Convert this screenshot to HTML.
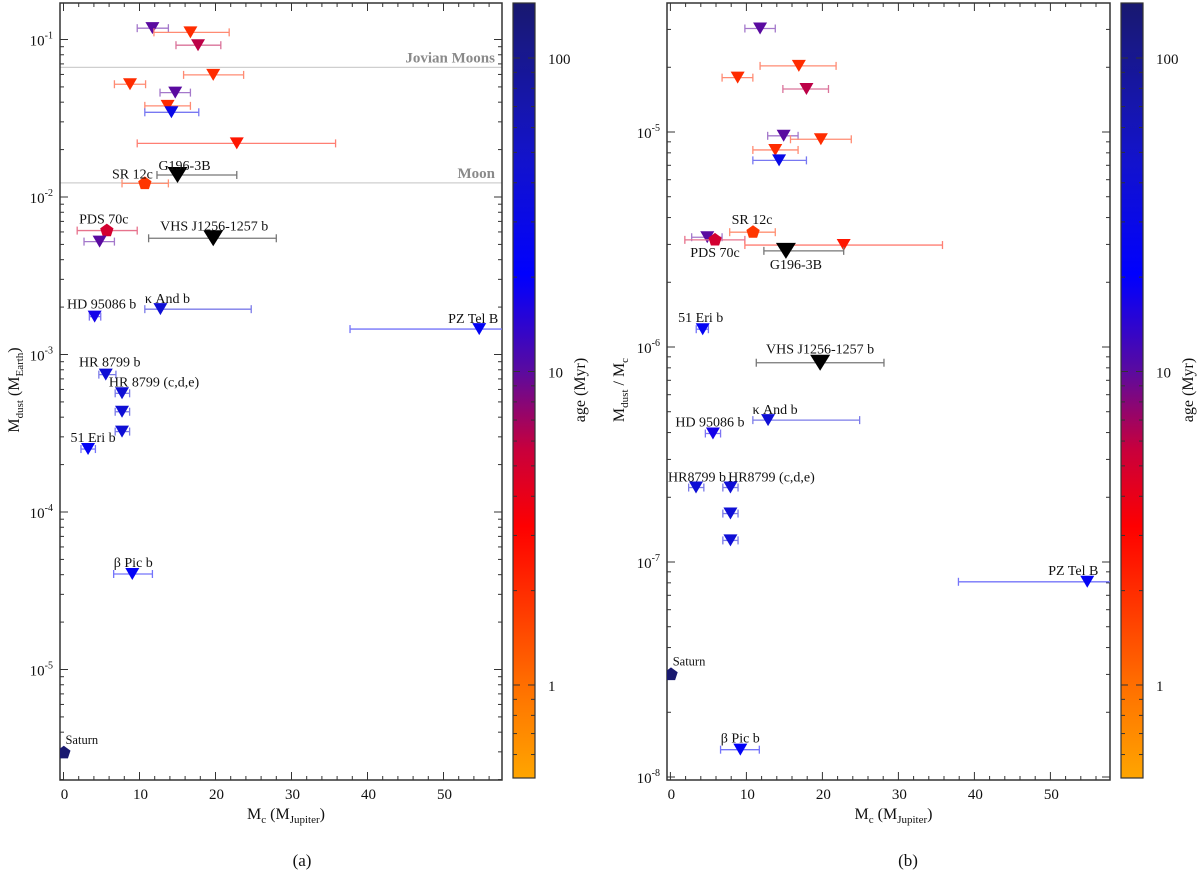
<!DOCTYPE html>
<html><head><meta charset="utf-8">
<style>
html,body{margin:0;padding:0;background:#fff;}
svg{display:block;font-family:"Liberation Serif",serif;}
</style></head>
<body>
<svg id="fig" width="1200" height="871" viewBox="0 0 1200 871" xmlns="http://www.w3.org/2000/svg"></svg>
<script>
// ---------- Panel (a) data: dust mass (M_Earth) ----------
const aNames = ["t1","t2","t3","t4","t5","t6","t7","t8","t9","G196-3B","SR 12c","PDS 70c","t13","VHS J1256-1257 b","HD 95086 b","κ And b","PZ Tel B","HR 8799 b","HR 8799 c","HR 8799 d","HR 8799 e","51 Eri b","β Pic b","Saturn"];
const aMass   = [11.7,16.7,17.7,19.7,8.75,14.7,13.7,14.2,22.8,15.0,10.7,5.7,4.75,19.7,4.1,12.75,54.7,5.56,7.7,7.7,7.7,3.23,9.05,0.04];
const aMassLo = [9.7,11.9,14.8,15.8,6.7,12.7,10.7,10.7,9.7,12.3,7.7,1.8,2.7,11.2,3.4,10.7,37.7,4.65,6.8,6.8,6.8,2.3,6.6,0.04];
const aMassHi = [13.8,21.8,20.7,23.7,10.8,16.7,16.7,17.8,35.8,22.8,13.8,9.7,6.7,28.0,4.9,24.7,72,6.9,8.7,8.7,8.7,4.2,11.7,0.04];
const aDust   = [0.118,0.111,0.092,0.0596,0.052,0.046,0.0379,0.0345,0.0219,0.0138,0.0122,0.00612,0.00521,0.00547,1.74e-3,1.94e-3,1.45e-3,7.45e-4,5.67e-4,4.33e-4,3.24e-4,2.51e-4,4.04e-5,2.96e-6];
const aAge    = [10,2,6,2,2,10,2,30,2.5,-1,1.8,5,10,-1,17,40,24,40,40,40,40,24,23,4500];
const aShape  = ["t","t","t","t","t","t","t","t","t","T","p","p","t","T","t","t","t","t","t","t","t","t","t","p"];
const aLabels = ["","","","","","","","","","G196-3B","SR 12c","PDS 70c","","VHS J1256-1257 b","HD 95086 b","κ And b","PZ Tel B","HR 8799 b","HR 8799 (c,d,e)","","","51 Eri b","β Pic b","Saturn"];

// ---------- Panel (b) data: Mdust / Mc ----------
const bNames = ["t1","t2","t3","t4","t5","t6","t7","t8","SR 12c","t10","PDS 70c","t12","G196-3B","51 Eri b","VHS J1256-1257 b","κ And b","HD 95086 b","HR8799 b","HR8799 c","HR8799 d","HR8799 e","PZ Tel B","Saturn","β Pic b"];
const bMass   = [11.8,16.9,8.85,17.9,14.9,19.8,13.8,14.3,10.87,4.85,5.87,22.8,15.2,4.25,19.7,12.85,5.6,3.37,7.9,7.9,7.9,54.85,0.08,9.2];
const bMassLo = [9.8,11.8,6.8,14.8,12.8,15.8,10.85,10.85,7.8,2.8,1.9,9.8,12.3,3.4,11.3,10.85,4.6,2.4,6.9,6.9,6.9,37.9,0.08,6.6];
const bMassHi = [13.8,21.8,10.85,20.8,16.8,23.8,16.8,17.9,13.8,6.8,9.8,35.8,22.8,5.0,28.1,24.9,6.6,4.4,8.9,8.9,8.9,72,0.08,11.7];
const bRatio  = [3.03e-5,2.03e-5,1.79e-5,1.585e-5,9.6e-6,9.25e-6,8.25e-6,7.38e-6,3.42e-6,3.24e-6,3.15e-6,2.98e-6,2.8e-6,1.21e-6,8.45e-7,4.57e-7,3.96e-7,2.22e-7,2.22e-7,1.68e-7,1.26e-7,8.09e-8,3.0e-8,1.34e-8];
const bAge    = [10,2,2,6,10,2,2,30,1.8,10,5,2.5,-1,24,-1,40,17,40,40,40,40,24,4500,23];
const bShape  = ["t","t","t","t","t","t","t","t","p","t","p","t","T","t","T","t","t","t","t","t","t","t","p","t"];
const bLabels = ["","","","","","","","","SR 12c","","PDS 70c","","G196-3B","51 Eri b","VHS J1256-1257 b","κ And b","HD 95086 b","HR8799 b","HR8799 (c,d,e)","","","PZ Tel B","Saturn","β Pic b"];

// tick label arrays
const aYTicks = [-1,-2,-3,-4,-5];
const bYTicks = [-5,-6,-7,-8];
const xTicks = [0,10,20,30,40,50];
const cbTicks = [1,10,100];

// label layout offsets (pixels, relative to marker)
const aLabOff = {9:[7,-5,"middle"],10:[8,-5,"end"],11:[-3,-7,"middle"],13:[1,-8,"middle"],14:[7,-8,"middle"],15:[7,-6,"middle"],16:[-6,-6,"middle"],17:[4,-8,"middle"],18:[32,-7,"middle"],21:[5,-7,"middle"],22:[1,-7,"middle"],23:[18,-9,"middle"]};
const bLabOff = {8:[-1,-8,"middle"],10:[0,17,"middle"],12:[10,18,"middle"],13:[-2,-7,"middle"],14:[0,-9,"middle"],15:[7,-6,"middle"],16:[-3,-7,"middle"],17:[1,-6,"middle"],18:[41,-6,"middle"],21:[-14,-7,"middle"],22:[18,-9,"middle"],23:[0,-7,"middle"]};

const NS="http://www.w3.org/2000/svg";
const svg=document.getElementById('fig');
function mk(tag,attrs,parent){const e=document.createElementNS(NS,tag);for(const k in attrs)e.setAttribute(k,attrs[k]);(parent||svg).appendChild(e);return e;}

const cStops=[[-0.3,[255,165,0]],[0,[255,110,0]],[0.5,[255,0,0]],[0.75,[200,0,60]],[1.0,[90,10,160]],[1.3,[0,0,255]],[1.7,[20,20,200]],[2.175,[25,25,112]]];
function cmap(age){
  if(age<0) return [0,0,0];
  let l=Math.log10(age); l=Math.max(-0.3,Math.min(2.175,l));
  for(let i=0;i<cStops.length-1;i++){const a=cStops[i],b=cStops[i+1];
    if(l<=b[0]){const t=(l-a[0])/(b[0]-a[0]);return a[1].map((v,j)=>Math.round(v+(b[1][j]-v)*t));}}
  return cStops[cStops.length-1][1];
}
const rgb=c=>`rgb(${c[0]},${c[1]},${c[2]})`;
const light=c=>`rgb(${Math.round(c[0]+(255-c[0])*0.45)},${Math.round(c[1]+(255-c[1])*0.45)},${Math.round(c[2]+(255-c[2])*0.45)})`;

function panel(cfg){
  const g=mk('g',{});
  
  
  const X=v=>cfg.x0+v*cfg.xs;
  const Y=v=>cfg.yRef-(Math.log10(v)-cfg.logRef)*cfg.dec;
  const L=cfg.left,R=cfg.right,T=3,B=780;
  if(cfg.refLines){
    cfg.refLines.forEach(r=>{
      const ln=mk('line',{x1:L,x2:R,y1:Y(r.v),y2:Y(r.v),stroke:'#cfcfcf','stroke-width':1.3},g);
      
      
      const t=mk('text',{x:R-7,y:Y(r.v)-5,'text-anchor':'end','font-size':15,'font-weight':'bold',fill:'#8a8a8a'},g);
      t.textContent=r.label;
      
      
    });
  }
  const fr=mk('rect',{x:L,y:T,width:R-L,height:B-T,fill:'none',stroke:'#333','stroke-width':1.5},g);
  
  
  for(let v=0;v<=58;v+=2){const x=X(v);if(x<L||x>R)continue;const len=v%10===0?8:4;
    mk('line',{x1:x,x2:x,y1:B,y2:B-len,stroke:'#333'},g);mk('line',{x1:x,x2:x,y1:T,y2:T+len,stroke:'#333'},g);}
  xTicks.forEach(v=>{const t=mk('text',{x:X(v)+1,y:B+19,'text-anchor':'middle','font-size':15,fill:'#111'},g);t.textContent=v;
    
    });
  for(let d=Math.floor(cfg.logMin);d<=Math.ceil(cfg.logMax);d++){for(let m=1;m<10;m++){const v=m*Math.pow(10,d);const y=Y(v);if(y<T||y>B)continue;const len=m===1?8:4;
    mk('line',{x1:L,x2:L+len,y1:y,y2:y,stroke:'#333'},g);mk('line',{x1:R,x2:R-len,y1:y,y2:y,stroke:'#333'},g);}}
  cfg.yTicks.forEach(e=>{const y=Y(Math.pow(10,e));const t=mk('text',{x:L-7,y:y+6,'text-anchor':'end','font-size':15,fill:'#111'},g);t.textContent='10';
    const s=mk('tspan',{dy:-7,'font-size':10},t);s.textContent=String(e);
    
    });
  const xt=mk('text',{x:(L+R)/2+5,y:819,'text-anchor':'middle','font-size':16,fill:'#111'},g);
  xt.innerHTML='M<tspan dy="4" font-size="11">c</tspan><tspan dy="-4"> (M</tspan><tspan dy="4" font-size="11">Jupiter</tspan><tspan dy="-4">)</tspan>';
  
  
  const yt=mk('text',{x:0,y:0,'text-anchor':'middle','font-size':16,fill:'#111',transform:`translate(${cfg.ytx},390) rotate(-90)`},g);
  yt.innerHTML=cfg.ytitle;
  
  
  const cap=mk('text',{x:cfg.capX,y:866,'text-anchor':'middle','font-size':17,fill:'#111'},g);cap.textContent=cfg.cap;
  
  
  const gid='cb'+cfg.cap.replace(/\W/g,'');
  const defs=mk('defs',{},g);const lg=mk('linearGradient',{id:gid,x1:0,y1:1,x2:0,y2:0},defs);
  for(let i=0;i<=40;i++){const l=-0.3+i*(2.475/40);mk('stop',{offset:(i/40),'stop-color':rgb(cmap(Math.pow(10,l)))},lg);}
  const cb=mk('rect',{x:cfg.cbx,y:T,width:22,height:B-2-T,fill:`url(#${gid})`,stroke:'#333','stroke-width':1.2},g);
  
  
  const CY=a=>685-Math.log10(a)*313.5;
  for(let d=-1;d<=2;d++)for(let m=1;m<10;m++){const a=m*Math.pow(10,d);const y=CY(a);if(y<T+2||y>B-3)continue;const len=m===1?7:4;
    mk('line',{x1:cfg.cbx,x2:cfg.cbx+len,y1:y,y2:y,stroke:'#333'},g);mk('line',{x1:cfg.cbx+22,x2:cfg.cbx+22-len,y1:y,y2:y,stroke:'#333'},g);}
  cbTicks.forEach(a=>{const t=mk('text',{x:cfg.cbx+35,y:CY(a)+6,'font-size':15,fill:'#111'},g);t.textContent=a;
    
    });
  const ct=mk('text',{x:0,y:0,'text-anchor':'middle','font-size':16,fill:'#111',transform:`translate(${cfg.cbx+72},390) rotate(-90)`},g);ct.textContent='age (Myr)';
  
  
  const d=cfg.data;
  const cp=mk('clipPath',{id:gid+'clip'},defs);mk('rect',{x:L,y:T,width:R-L,height:B-T},cp);
  const pg=mk('g',{'clip-path':`url(#${gid}clip)`},g);
  d.mass.forEach((m,i)=>{
    const c=cmap(d.age[i]);const x=X(m),y=Y(d.val[i]);
    const pt=mk('g',{},pg);
    
    
    if(d.hi[i]>d.lo[i]){const ec=d.age[i]<0?'#777':light(c);
      mk('line',{x1:X(d.lo[i]),x2:X(d.hi[i]),y1:y,y2:y,stroke:ec,'stroke-width':1.3},pt);
      mk('line',{x1:X(d.lo[i]),x2:X(d.lo[i]),y1:y-4,y2:y+4,stroke:ec,'stroke-width':1.3},pt);
      mk('line',{x1:X(d.hi[i]),x2:X(d.hi[i]),y1:y-4,y2:y+4,stroke:ec,'stroke-width':1.3},pt);}
    const s=d.shape[i];
    if(s==='t'){mk('polygon',{points:`${x-7},${y-6} ${x+7},${y-6} ${x},${y+6}`,fill:rgb(c)},pt);}
    else if(s==='T'){mk('polygon',{points:`${x-10},${y-8} ${x+10},${y-8} ${x},${y+8}`,fill:'#000'},pt);}
    else{let p=[];for(let k=0;k<5;k++){const a=-Math.PI/2+k*2*Math.PI/5;p.push((x+7*Math.cos(a)).toFixed(1)+','+(y+7*Math.sin(a)).toFixed(1));}
      mk('polygon',{points:p.join(' '),fill:rgb(c)},pt);}
  });
  d.labels.forEach((lab,i)=>{if(!lab)return;const o=d.off[i];
    const t=mk('text',{x:X(d.mass[i])+o[0],y:Y(d.val[i])+o[1],'text-anchor':o[2],'font-size':lab==='Saturn'?12.5:14,fill:'#111'},g);t.textContent=lab;
    
    });
}

panel({name:'panel-a',cap:'(a)',capX:302,left:60,right:502,x0:63.5,xs:7.6,yRef:39.5,logRef:-1,dec:157.5,logMin:-6,logMax:0,
  yTicks:aYTicks,ytx:19,cbx:513,
  ytitle:'M<tspan dy="4" font-size="11">dust</tspan><tspan dy="-4"> (M</tspan><tspan dy="4" font-size="11">Earth</tspan><tspan dy="-4">)</tspan>',
  refLines:[{v:0.0665,label:'Jovian Moons',key:'jovian-moons'},{v:0.0123,label:'Moon',key:'moon'}],
  data:{names:aNames,mass:aMass,lo:aMassLo,hi:aMassHi,val:aDust,age:aAge,shape:aShape,labels:aLabels,off:aLabOff}});
panel({name:'panel-b',cap:'(b)',capX:908,left:667,right:1110,x0:670.4,xs:7.6,yRef:132,logRef:-5,dec:215,logMin:-9,logMax:-4,
  yTicks:bYTicks,ytx:624,cbx:1121,
  ytitle:'M<tspan dy="4" font-size="11">dust</tspan><tspan dy="-4"> / M</tspan><tspan dy="4" font-size="11">c</tspan>',
  data:{names:bNames,mass:bMass,lo:bMassLo,hi:bMassHi,val:bRatio,age:bAge,shape:bShape,labels:bLabels,off:bLabOff}});
</script>
</body></html>
